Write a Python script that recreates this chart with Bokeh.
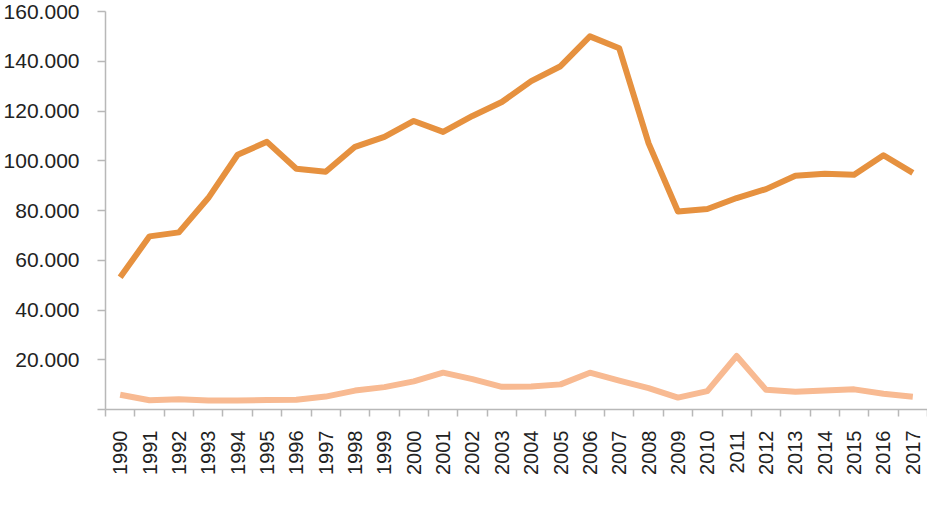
import math
from bokeh.plotting import figure
from bokeh.models import Range1d, FixedTicker, CustomJSTickFormatter, Legend, LegendItem
from bokeh.embed import file_html
from bokeh.resources import INLINE

years = [str(y) for y in range(1990, 2018)]
constitucions = [53200, 69600, 71200, 85000, 102400, 107600, 96800, 95600, 105600, 109600,
                 116000, 111600, 118000, 123600, 132000, 138000, 150000, 145200, 107000, 79600,
                 80600, 85000, 88600, 94000, 94800, 94400, 102200, 95100]
capital = [5900, 3700, 4100, 3600, 3600, 3800, 3900, 5200, 7600, 9000,
           11300, 14800, 12200, 9100, 9200, 10100, 14800, 11600, 8600, 4800,
           7400, 21500, 7900, 7100, 7600, 8100, 6300, 5100]
y_ticks = [0, 20000, 40000, 60000, 80000, 100000, 120000, 140000, 160000]
y_labels = ["", "20.000", "40.000", "60.000", "80.000", "100.000", "120.000", "140.000", "160.000"]
series_names = ["Constitucions", "Capital invertit en les constitucions (milions d\u2019euros)"]

FONT = "Liberation Sans"
n = len(years)
xs = [i + 0.5 for i in range(n)]

p = figure(width=920, height=509, frame_width=822, frame_height=398,
           output_backend="svg", toolbar_location=None,
           x_range=Range1d(0, n), y_range=Range1d(0, 160000),
           min_border_left=98, min_border_right=0, min_border_top=11, min_border_bottom=0)
p.outline_line_color = None
p.grid.grid_line_color = None
p.background_fill_color = "white"

r1 = p.line(xs, constitucions, line_color="#E6913F", line_width=6, line_join="round")
r2 = p.line(xs, capital, line_color="#F8BA92", line_width=6, line_join="round")

ax = p.xaxis[0]
ax.ticker = FixedTicker(ticks=xs, minor_ticks=list(range(n + 1)))
ax.formatter = CustomJSTickFormatter(args=dict(years=years), code="return years[Math.floor(tick)];")
ax.major_label_orientation = math.pi / 2
ax.major_tick_line_color = None
ax.major_tick_out = 0
ax.major_tick_in = 0
ax.minor_tick_out = 7
ax.minor_tick_in = 0
ax.minor_tick_line_color = "#B8B8B8"
ax.minor_tick_line_width = 1.5
ax.axis_line_color = "#B8B8B8"
ax.axis_line_width = 1.5
ax.major_label_standoff = 14
ax.major_label_text_font = FONT
ax.major_label_text_font_size = "20px"
ax.major_label_text_color = "#222222"

ay = p.yaxis[0]
ay.ticker = FixedTicker(ticks=y_ticks)
ay.major_label_overrides = {t: l for t, l in zip(y_ticks, y_labels)}
ay.minor_tick_line_color = None
ay.major_tick_out = 8
ay.major_tick_in = 0
ay.major_tick_line_color = "#B8B8B8"
ay.major_tick_line_width = 1.5
ay.axis_line_color = "#B8B8B8"
ay.axis_line_width = 1.5
ay.major_label_standoff = 18
ay.major_label_text_font = FONT
ay.major_label_text_font_size = "21px"
ay.major_label_text_color = "#222222"

legend = Legend(items=[LegendItem(label=series_names[0], renderers=[r1]),
                       LegendItem(label=series_names[1], renderers=[r2])],
                orientation="horizontal", location="center")
legend.border_line_color = None
legend.background_fill_alpha = 0
legend.padding = 0
legend.margin = 0
legend.spacing = 36
legend.label_standoff = 13
legend.glyph_width = 32
legend.glyph_height = 20
legend.label_text_font = FONT
legend.label_text_font_size = "21px"
legend.label_text_color = "#222222"
p.add_layout(legend, "below")

open("out.html", "w").write(file_html(p, INLINE))
